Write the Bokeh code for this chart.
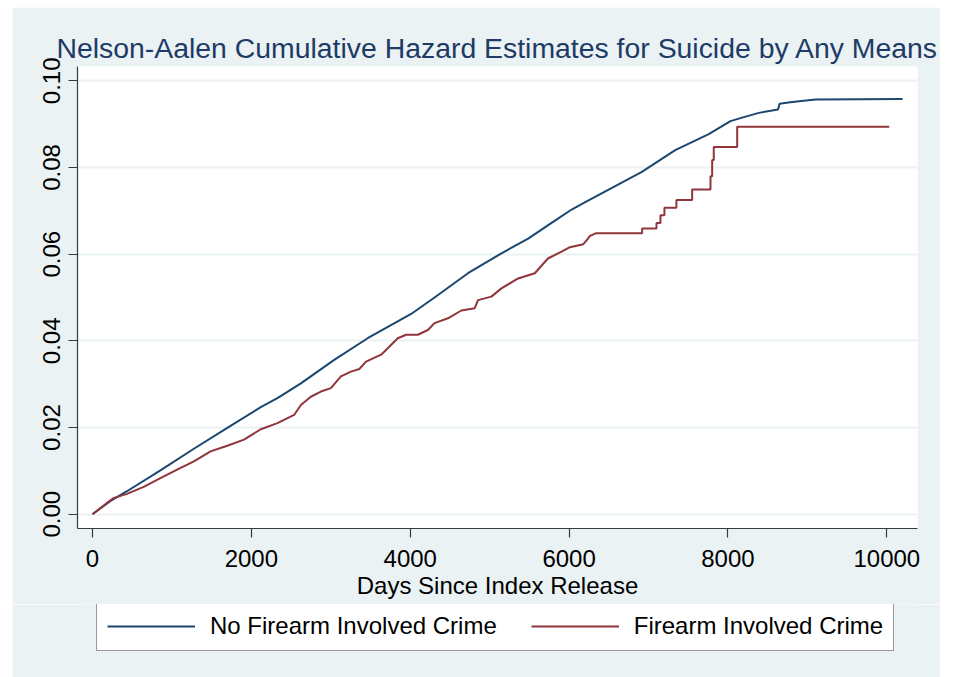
from bokeh.plotting import figure
from bokeh.models import (Range1d, Legend, LegendItem, FixedTicker,
                          PrintfTickFormatter, Spacer)
from bokeh.layouts import column, row
from bokeh.embed import file_html
from bokeh.resources import INLINE

# Nelson-Aalen cumulative hazard, no firearm involved in index crime
blue_days = [0, 223, 434, 855, 1276, 1697, 2118, 2328, 2623, 3043, 3464, 4011,
             4306, 4727, 5148, 5485, 5779, 6032, 6221, 6916, 7336, 7758, 8031,
             8178, 8389, 8630, 8650, 8809, 9104, 10198]
blue_hazard = [0.0, 0.0030, 0.0053, 0.0101, 0.0151, 0.0199, 0.0247, 0.0268,
               0.0302, 0.0356, 0.0406, 0.0462, 0.0500, 0.0556, 0.0602, 0.0636,
               0.0672, 0.0703, 0.0722, 0.0790, 0.0840, 0.0877, 0.0907, 0.0915,
               0.0926, 0.0934, 0.0947, 0.0951, 0.0957, 0.0958]

# Nelson-Aalen cumulative hazard, firearm involved in index crime
red_days = [0, 181, 265, 434, 644, 855, 1065, 1276, 1486, 1697,
            1907, 2118, 2328, 2538, 2623, 2749, 2875, 3001, 3127, 3254,
            3359, 3443, 3633, 3717, 3843, 3948, 4096, 4222, 4306, 4475,
            4643, 4811, 4853, 5021, 5148, 5358, 5568, 5733, 5905, 6010,
            6179, 6230, 6263, 6335, 6919, 6919, 7100, 7100, 7150, 7150,
            7200, 7200, 7351, 7351, 7549, 7549, 7780, 7780, 7801, 7801,
            7821, 7821, 8116, 8116, 10030]
red_hazard = [0.0, 0.0026, 0.0037, 0.0047, 0.0063, 0.0083, 0.0103, 0.0122, 0.0145, 0.0158,
              0.0172, 0.0196, 0.0210, 0.0229, 0.0252, 0.0271, 0.0283, 0.0291, 0.0318, 0.0329,
              0.0335, 0.0352, 0.0368, 0.0383, 0.0406, 0.0414, 0.0414, 0.0425, 0.0441, 0.0452,
              0.0470, 0.0475, 0.0494, 0.0502, 0.0521, 0.0544, 0.0556, 0.0590, 0.0606, 0.0616,
              0.0623, 0.0634, 0.0642, 0.0648, 0.0648, 0.0659, 0.0659, 0.0672, 0.0672, 0.0690,
              0.0690, 0.0707, 0.0707, 0.0725, 0.0725, 0.0749, 0.0749, 0.0780, 0.0780, 0.0817,
              0.0817, 0.0847, 0.0847, 0.0894, 0.0894]

x_ticks = [0, 2000, 4000, 6000, 8000, 10000]
y_ticks = [0.00, 0.02, 0.04, 0.06, 0.08, 0.10]

series_labels = ["No Firearm Involved Crime", "Firearm Involved Crime"]
title_text = "Nelson-Aalen Cumulative Hazard Estimates for Suicide by Any Means"
x_title = "Days Since Index Release"

FONT = "Liberation Sans"
BG = "#eaf2f3"
AXIS = "#3a3a3a"
BLUE = "#1a476f"
RED = "#90353b"

# ---- main chart -------------------------------------------------------
p = figure(width=928, height=597, output_backend="svg", toolbar_location=None,
           x_range=Range1d(-189, 10386), y_range=Range1d(-0.0033, 0.1033),
           title=title_text,
           min_border_left=65, min_border_right=23, min_border_top=59,
           min_border_bottom=76)

p.border_fill_color = BG
p.background_fill_color = "white"
p.outline_line_color = None

p.title.text_font = FONT
p.title.text_font_size = "28.4px"
p.title.text_font_style = "normal"
p.title.text_color = "#1e3a66"
p.title.align = "center"
p.title.standoff = 6

p.xaxis.ticker = FixedTicker(ticks=x_ticks)
p.yaxis.ticker = FixedTicker(ticks=y_ticks)
p.yaxis.formatter = PrintfTickFormatter(format="%.2f")
p.yaxis.major_label_orientation = "vertical"
for ax in (p.xaxis, p.yaxis):
    ax.axis_line_color = AXIS
    ax.axis_line_width = 1.2
    ax.major_tick_line_color = AXIS
    ax.major_tick_line_width = 1.2
    ax.major_tick_out = 9
    ax.major_tick_in = 0
    ax.minor_tick_line_color = None
    ax.major_label_text_font = FONT
    ax.major_label_text_font_size = "24px"
    ax.major_label_text_color = "black"
p.xaxis.major_label_standoff = 12
p.yaxis.major_label_standoff = 8
p.xaxis.axis_label = x_title
p.xaxis.axis_label_text_font = FONT
p.xaxis.axis_label_text_font_size = "24px"
p.xaxis.axis_label_text_font_style = "normal"
p.xaxis.axis_label_text_color = "black"
p.xaxis.axis_label_standoff = 2

p.xgrid.grid_line_color = None
p.ygrid.grid_line_color = BG
p.ygrid.grid_line_width = 2

p.line(blue_days, blue_hazard, line_color=BLUE, line_width=2)
p.line(red_days, red_hazard, line_color=RED, line_width=2)

# ---- legend strip below the chart ---------------------------------------
# The strip's frame lines up with the chart's frame inside the column; its
# ranges keep the key lines out of view so only the legend box is drawn.
leg = figure(width=928, height=73, output_backend="svg", toolbar_location=None,
             x_range=Range1d(-189, 10386), y_range=Range1d(-2.0, -1.0),
             x_axis_location=None, y_axis_location=None, min_border=0)
leg.border_fill_color = BG
leg.background_fill_color = BG
leg.outline_line_color = None
leg.xgrid.grid_line_color = None
leg.ygrid.grid_line_color = None

key_blue = leg.line(blue_days, blue_hazard, line_color=BLUE, line_width=2)
key_red = leg.line(red_days, red_hazard, line_color=RED, line_width=2)

legend = Legend(items=[LegendItem(label=series_labels[0], renderers=[key_blue]),
                       LegendItem(label=series_labels[1], renderers=[key_red])],
                orientation="horizontal", location=(19, 26))
legend.label_text_font = FONT
legend.label_text_font_size = "24px"
legend.label_text_color = "black"
legend.glyph_width = 88
legend.glyph_height = 24
legend.label_height = 24
legend.label_standoff = 15
legend.spacing = 34
legend.padding = 10
legend.margin = 0
legend.border_line_color = "#333333"
legend.border_line_width = 1.2
legend.background_fill_color = "white"
legend.background_fill_alpha = 1.0
leg.add_layout(legend, "center")

page = column(Spacer(height=7), row(Spacer(width=12), column(p, leg)))

open("out.html", "w").write(file_html(page, INLINE))
